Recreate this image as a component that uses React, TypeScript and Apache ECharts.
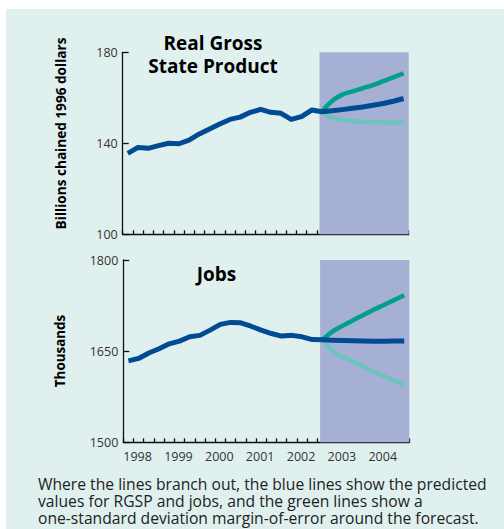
import React, { useEffect, useRef } from "react";
import * as echarts from "echarts";

// Quarterly positions: 1998Q1 .. 2004Q4 (28 quarters); index 19 = start of forecast
const yearLabels = ["1998", "1999", "2000", "2001", "2002", "2003", "2004"];
const forecastStartIndex = 19;
const shadeRange = [19.27, 28.15];

const gspActual = [135.6, 138.2, 137.8, 139.0, 140.0, 139.8, 141.4, 144.1, 146.3, 148.5, 150.5, 151.5, 153.6, 154.9, 153.6, 153.2, 150.5, 151.7, 154.6, 153.9];
const gspForecast = [153.9, 154.3, 154.8, 155.4, 156.0, 156.7, 157.5, 158.5, 159.7];
const gspUpper = [153.9, 158.6, 161.4, 162.8, 164.2, 165.6, 167.3, 169.0, 170.8];
const gspLower = [153.9, 151.2, 150.3, 149.8, 149.5, 149.3, 149.2, 149.1, 149.1];

const jobsActual = [1634, 1638, 1647, 1654, 1662, 1666.5, 1673.6, 1676, 1684.6, 1694, 1697.3, 1696.7, 1691, 1684.6, 1679, 1674.8, 1676, 1673.6, 1669, 1668.7];
const jobsForecast = [1668.7, 1668, 1667.5, 1667, 1666.5, 1666.3, 1666.3, 1666.5, 1666.8];
const jobsUpper = [1668.7, 1682.5, 1692, 1701, 1709.5, 1718, 1726, 1734, 1742];
const jobsLower = [1668.7, 1651, 1640, 1633, 1625, 1617, 1609, 1601.5, 1594];

const gspTicks = { min: 100, max: 180, interval: 40 };
const jobsTicks = { min: 1500, max: 1800, interval: 150 };

const captionLines = [
  "Where the lines branch out, the blue lines show the predicted",
  "values for RGSP and jobs, and the green lines show a",
  "one-standard deviation margin-of-error around the forecast.",
];

const BLUE = "#004b93";
const GREEN = "#00a08b";
const LIGHT_GREEN = "#6cc4bd";
const SHADE = "#a6afd4";
const FONT = "'Open Sans', 'Noto Sans', sans-serif";

function toPairs(values: number[], offset: number) {
  return values.map((v, i) => [offset + i + 0.5, v]);
}

function xAxisFor(gridIndex: number, showLabels: boolean) {
  return {
    type: "value",
    gridIndex,
    min: 0,
    max: 28,
    interval: 1,
    axisLine: { show: true, lineStyle: { color: "#111", width: 1.3 } },
    axisTick: { show: true, inside: true, length: 4, lineStyle: { color: "#111", width: 1.3 } },
    splitLine: { show: false },
    axisLabel: {
      show: showLabels,
      align: "left",
      margin: 8,
      color: "#333",
      fontFamily: FONT,
      fontSize: 12.5,
      formatter: (v: number) => {
        const r = Math.round(v);
        if (r % 4 !== 0 || r >= 28) return "";
        return yearLabels[r / 4];
      },
    },
  };
}

function yAxisFor(gridIndex: number, t: { min: number; max: number; interval: number }) {
  return {
    type: "value",
    gridIndex,
    min: t.min,
    max: t.max,
    interval: t.interval,
    axisLine: { show: true, lineStyle: { color: "#111", width: 1.3 } },
    axisTick: { show: true, inside: true, length: 6, lineStyle: { color: "#111", width: 1.3 } },
    splitLine: { show: false },
    axisLabel: {
      margin: 5,
      color: "#333",
      fontFamily: FONT,
      fontSize: 12.5,
      formatter: (v: number) => String(v),
    },
  };
}

function seriesFor(axisIndex: number, actual: number[], forecast: number[], upper: number[], lower: number[]) {
  const full = toPairs(actual.slice(0, forecastStartIndex), 0).concat(toPairs(forecast, forecastStartIndex));
  return [
    {
      type: "line",
      xAxisIndex: axisIndex,
      yAxisIndex: axisIndex,
      data: [],
      z: 1,
      silent: true,
      markArea: {
        silent: true,
        itemStyle: { color: SHADE, opacity: 1 },
        data: [[{ xAxis: shadeRange[0] }, { xAxis: shadeRange[1] }]],
      },
    },
    {
      type: "line",
      xAxisIndex: axisIndex,
      yAxisIndex: axisIndex,
      data: toPairs(lower, forecastStartIndex),
      showSymbol: false,
      smooth: 0.35,
      z: 3,
      lineStyle: { color: LIGHT_GREEN, width: 4.5, cap: "butt" },
    },
    {
      type: "line",
      xAxisIndex: axisIndex,
      yAxisIndex: axisIndex,
      data: toPairs(upper, forecastStartIndex),
      showSymbol: false,
      smooth: 0.35,
      z: 3,
      lineStyle: { color: GREEN, width: 4.5, cap: "butt" },
    },
    {
      type: "line",
      xAxisIndex: axisIndex,
      yAxisIndex: axisIndex,
      data: full,
      showSymbol: false,
      z: 4,
      lineStyle: { color: BLUE, width: 5, cap: "butt", join: "round" },
    },
  ];
}

export default function App() {
  const ref = useRef<HTMLDivElement>(null);
  useEffect(() => {
    if (!ref.current) return;
    const chart = echarts.init(ref.current, undefined, { renderer: "svg" });
    const capFs = 16.5;
    const titleFs = 19;
    const option: any = {
      animation: false,
      backgroundColor: "#ffffff",
      grid: [
        { left: 122.7, top: 52.3, width: 286, height: 182 },
        { left: 123.3, top: 260, width: 286, height: 182.3 },
      ],
      xAxis: [xAxisFor(0, false), xAxisFor(1, true)],
      yAxis: [yAxisFor(0, gspTicks), yAxisFor(1, jobsTicks)],
      series: [
        ...seriesFor(0, gspActual, gspForecast, gspUpper, gspLower),
        ...seriesFor(1, jobsActual, jobsForecast, jobsUpper, jobsLower),
      ],
      graphic: [
        { type: "rect", z: -10, silent: true, shape: { x: 6, y: 9, width: 498, height: 520 }, style: { fill: "#e0f0ef" } },
        {
          type: "text", z: 10, x: 213, y: 54.8, silent: true,
          style: { text: "Real Gross\nState Product", lineHeight: 23, fontFamily: FONT, fontWeight: "bold", fontSize: titleFs, fill: "#000", align: "center", verticalAlign: "middle" },
        },
        {
          type: "text", z: 10, x: 216.5, y: 281.7 - 0.39 * titleFs, silent: true,
          style: { text: "Jobs", fontFamily: FONT, fontWeight: "bold", fontSize: titleFs, fill: "#000", align: "center", verticalAlign: "middle" },
        },
        {
          type: "text", z: 10, x: 60, y: 133.5, rotation: Math.PI / 2, silent: true,
          style: { text: "Billions chained 1996 dollars", fontFamily: FONT, fontWeight: "bold", fontSize: 13.6, fill: "#000", align: "center", verticalAlign: "middle" },
        },
        {
          type: "text", z: 10, x: 60, y: 351, rotation: Math.PI / 2, silent: true,
          style: { text: "Thousands", fontFamily: FONT, fontWeight: "bold", fontSize: 13.4, fill: "#000", align: "center", verticalAlign: "middle" },
        },
        {
          type: "text", z: 10, x: 38, y: 490 - 0.39 * capFs + 17, scaleX: 0.95, silent: true,
          style: { text: captionLines.join("\n"), lineHeight: 17, fontFamily: FONT, fontSize: capFs, fill: "#222", align: "left", verticalAlign: "middle" },
        },
      ],
    };
    chart.setOption(option);
    return () => chart.dispose();
  }, []);
  return <div ref={ref} style={{ position: "absolute", left: 0, top: 0, width: 504, height: 529 }} />;
}
